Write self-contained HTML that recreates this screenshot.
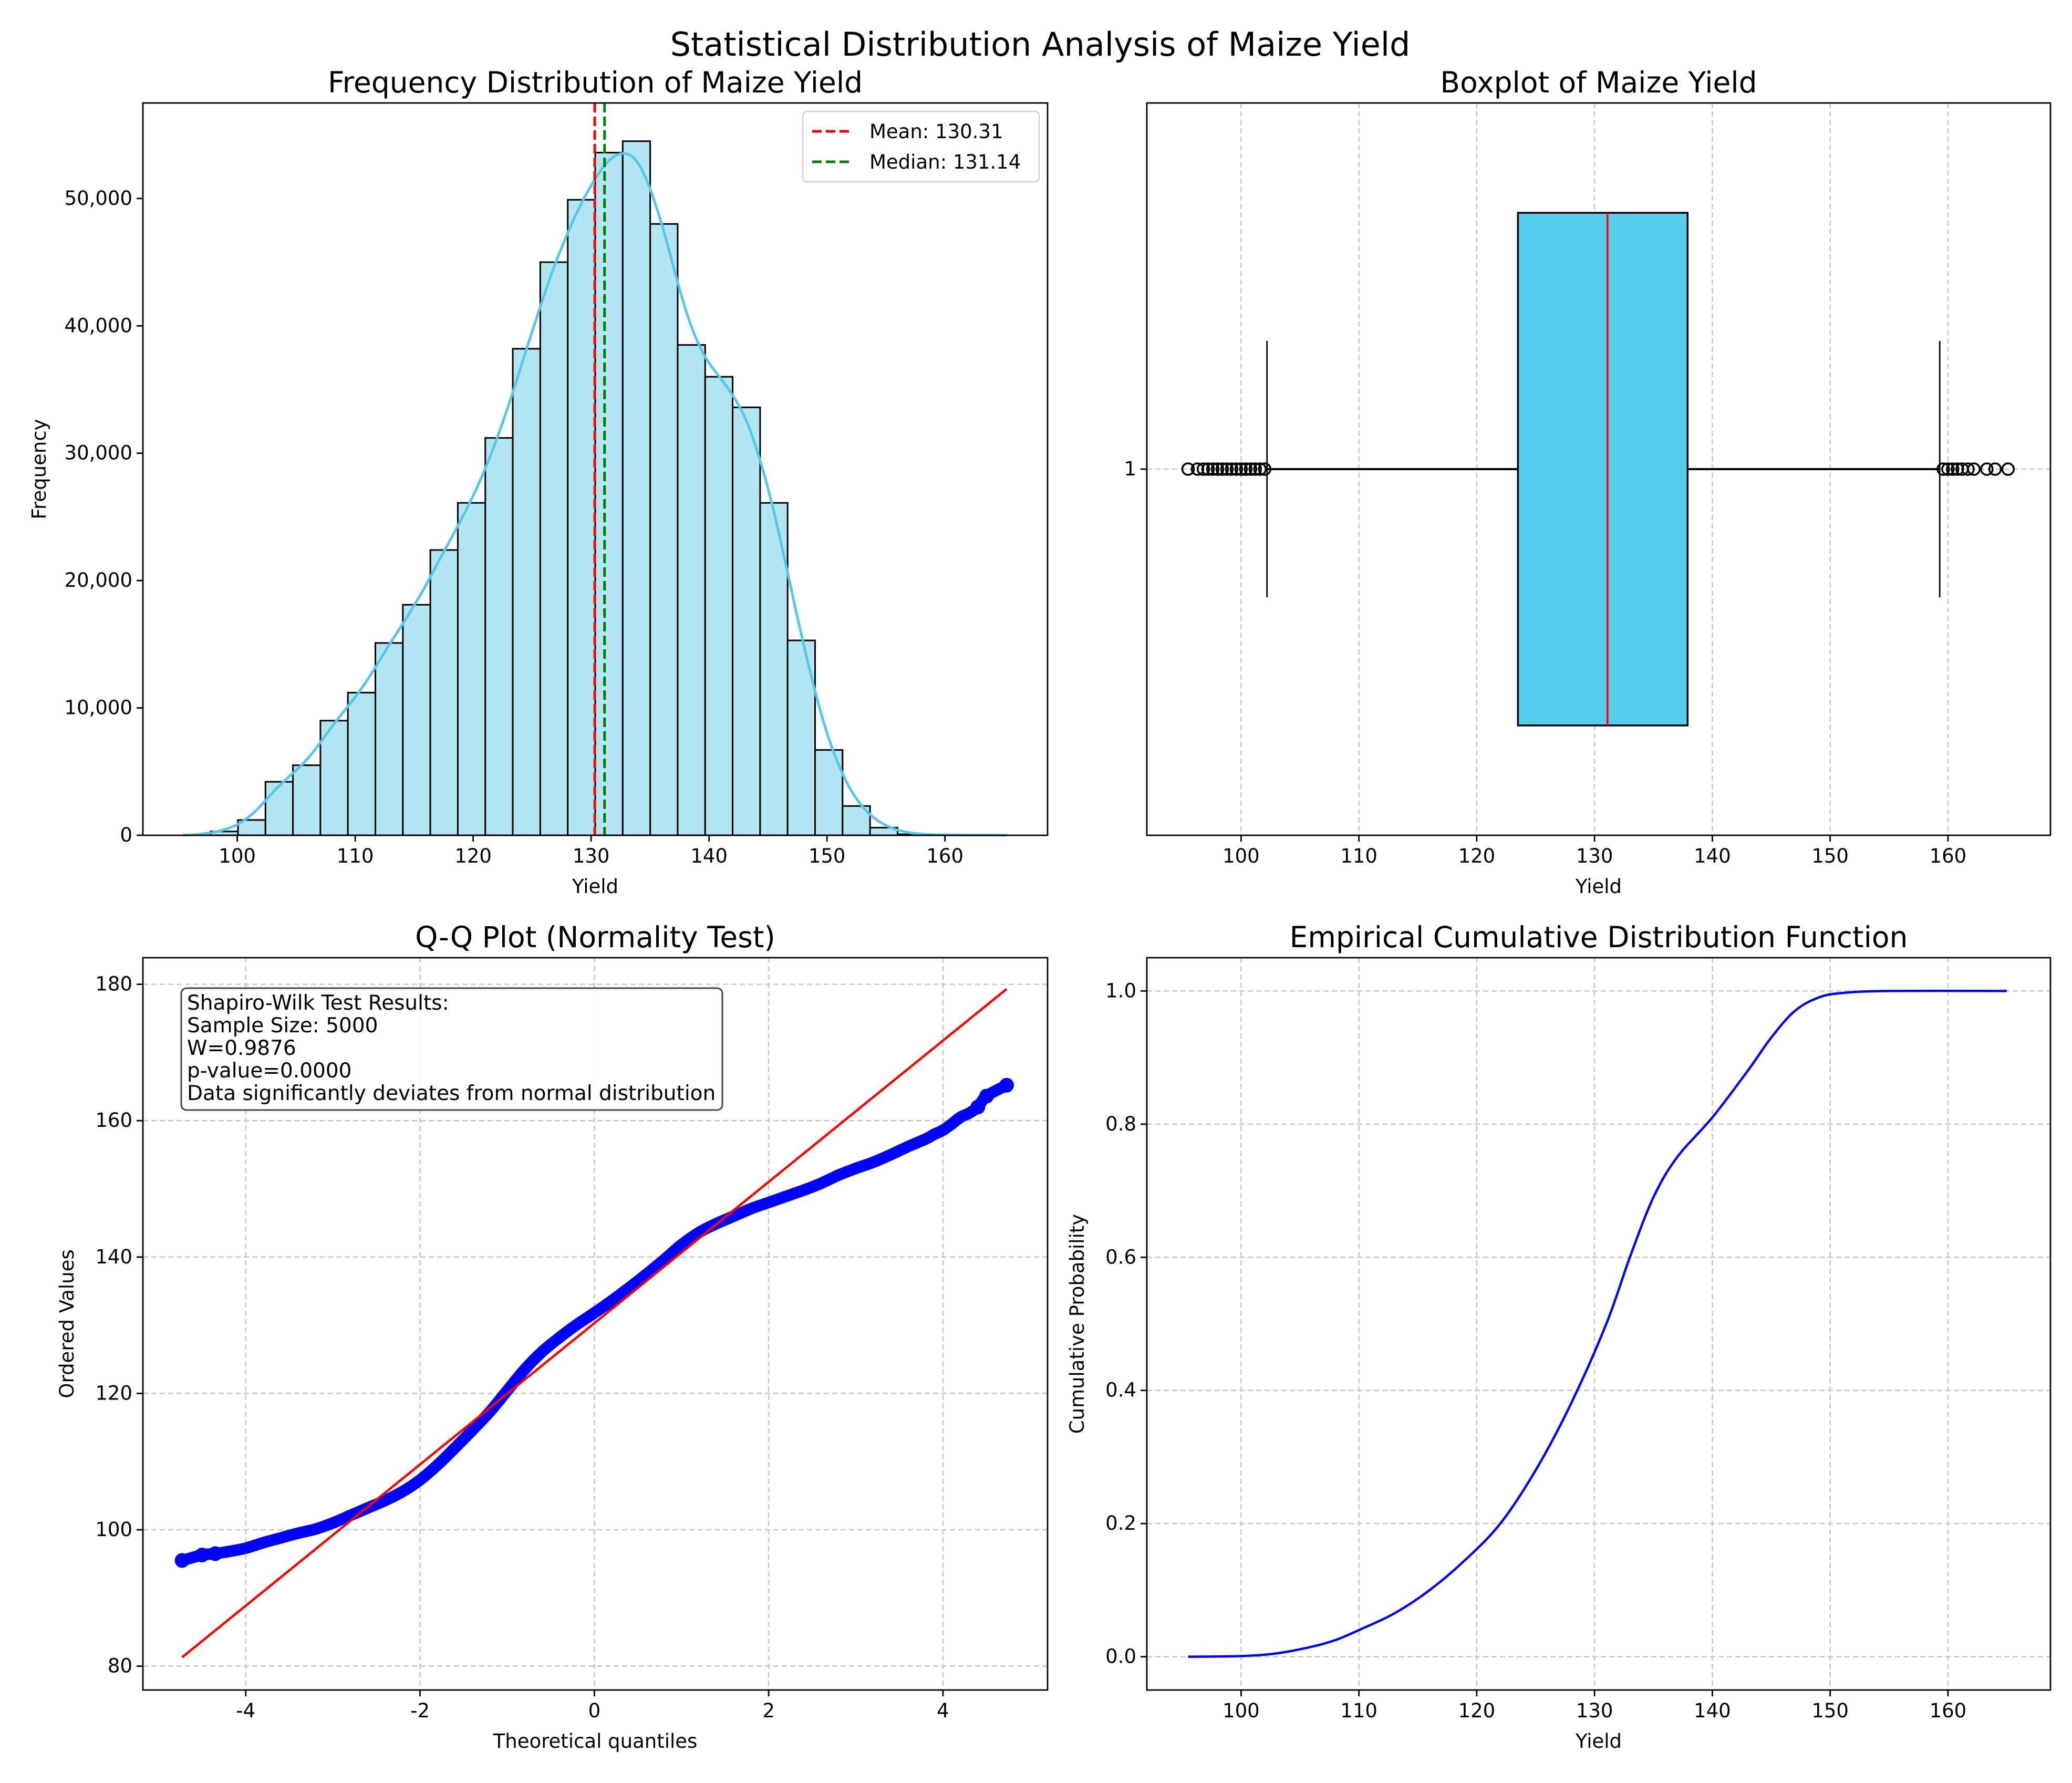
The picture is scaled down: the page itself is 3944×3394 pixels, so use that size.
<!DOCTYPE html>
<html><head><meta charset="utf-8">
<style>
html,body{margin:0;padding:0;background:#fff;}
svg{display:block;font-family:"DejaVu Sans","Liberation Sans",sans-serif;}
</style></head>
<body>
<svg id="fig" width="3944" height="3394" viewBox="0 0 3944 3394" xmlns="http://www.w3.org/2000/svg">
<rect width="3944" height="3394" fill="#fff"/>
<text x="1980" y="106" font-size="62" text-anchor="middle">Statistical Distribution Analysis of Maize Yield</text>
</svg>
<script>
// ---------- data ----------
const histStart = 95.4;
const histBinWidth = 2.33;
const histCounts = [0,300,1200,4200,5500,9000,11200,15100,18100,22400,26100,31200,38200,45000,49900,53600,54500,48000,38500,36000,33600,26100,15300,6700,2300,600,80,30,10,5];
const histYTicks = [0,10000,20000,30000,40000,50000];
const yieldTicks = [100,110,120,130,140,150,160];
const meanValue = 130.31;
const medianValue = 131.14;

const boxStats = [102.2,123.5,131.1,137.9,159.3];
const lowOutliers = [95.5,96.3,96.8,97.2,97.6,98,98.4,98.8,99.2,99.6,100,100.4,100.8,101.2,101.6,102];
const highOutliers = [159.6,160,160.4,160.8,161.2,161.7,162.2,163.3,164,165.1];

const qqTheo = [-4.73,-4.5,-4.35,-4.2,-4,-3.8,-3.6,-3.4,-3.2,-3,-2.8,-2.6,-2.4,-2.2,-2,-1.8,-1.6,-1.4,-1.2,-1,-0.8,-0.6,-0.4,-0.2,0,0.2,0.4,0.6,0.8,1,1.2,1.4,1.6,1.8,2,2.2,2.4,2.6,2.8,3,3.2,3.4,3.6,3.8,3.9,4,4.1,4.2,4.3,4.4,4.5,4.73];
const qqVals = [95.5,96.3,96.5,96.8,97.3,98.1,98.8,99.5,100.1,101,102.1,103.2,104.3,105.6,107.3,109.5,112,114.6,117.3,120.4,123.5,126.1,128.2,130.1,131.8,133.6,135.5,137.5,139.6,141.8,143.6,144.9,146,147.1,148,148.9,149.8,150.8,152,153,153.9,155,156.2,157.3,158,158.6,159.5,160.5,161.1,162,163.6,165.2];
const qqSlope = 10.36;
const qqIntercept = 130.3;
const qqLineEnds = [-4.73,4.73];
const qqXTicks = [-4,-2,0,2,4];
const qqYTicks = [80,100,120,140,160,180];

const ecdfX = [95.5,100,103,106,108,110,113,116,119,122,125,128,131,133,135,137,140,143,145,147,149,151,155,165];
const ecdfY = [0,0.001,0.005,0.015,0.025,0.04,0.065,0.1,0.145,0.2,0.28,0.38,0.5,0.6,0.69,0.75,0.81,0.88,0.93,0.97,0.99,0.997,1,1];
const ecdfYTicks = [0,0.2,0.4,0.6,0.8,1.0];

// ---------- helpers ----------
const NS="http://www.w3.org/2000/svg";
const fig=document.getElementById('fig');
function mk(tag,attrs,parent,txt){const e=document.createElementNS(NS,tag);for(const k in attrs)e.setAttribute(k,attrs[k]);if(txt!==undefined)e.textContent=txt;(parent||fig).appendChild(e);return e;}
function scale(d0,d1,r0,r1){return v=>r0+(v-d0)*(r1-r0)/(d1-d0);}
function smoothPath(P){let d='M'+P[0][0]+','+P[0][1];
  for(let i=0;i<P.length-1;i++){const p0=P[Math.max(0,i-1)],p1=P[i],p2=P[i+1],p3=P[Math.min(P.length-1,i+2)];
    const c1=[p1[0]+(p2[0]-p0[0])/6,p1[1]+(p2[1]-p0[1])/6],c2=[p2[0]-(p3[0]-p1[0])/6,p2[1]-(p3[1]-p1[1])/6];
    d+=` C${c1[0].toFixed(1)},${c1[1].toFixed(1)} ${c2[0].toFixed(1)},${c2[1].toFixed(1)} ${p2[0].toFixed(1)},${p2[1].toFixed(1)}`;}
  return d;}
const TICK=35, LBL=35, TTL=55;

function axesFrame(g,L,T,R,B){
  const f=mk('rect',{x:L,y:T,width:R-L,height:B-T,fill:'none',stroke:'#000','stroke-width':2.8},g);
  
  
}
function xTicks(g,ticks,sx,B,fmt,grid,T){
  ticks.forEach(t=>{const x=sx(t);
    if(grid){const gl=mk('line',{x1:x,x2:x,y1:T,y2:B,stroke:'#c8c8c8','stroke-width':2.6,'stroke-dasharray':'10,6'},g);}
    mk('line',{x1:x,x2:x,y1:B,y2:B+12,stroke:'#000','stroke-width':2.8},g);
    const tx=mk('text',{x:x,y:B+52,'font-size':TICK+2,'text-anchor':'middle'},g,fmt(t));
    
  });
}
function yTicks(g,ticks,sy,L,fmt,grid,R){
  ticks.forEach(t=>{const y=sy(t);
    if(grid){const gl=mk('line',{x1:L,x2:R,y1:y,y2:y,stroke:'#c8c8c8','stroke-width':2.6,'stroke-dasharray':'10,6'},g);}
    mk('line',{x1:L-12,x2:L,y1:y,y2:y,stroke:'#000','stroke-width':2.8},g);
    const tx=mk('text',{x:L-20,y:y+12,'font-size':TICK+2,'text-anchor':'end'},g,fmt(t));
    
  });
}
function titles(g,L,T,R,B,title,xl,yl,ylx){
  const t=mk('text',{x:(L+R)/2,y:T-20,'font-size':TTL,'text-anchor':'middle'},g,title);
  
  const x=mk('text',{x:(L+R)/2,y:B+110,'font-size':LBL+2,'text-anchor':'middle'},g,xl);
  
  if(yl){const cy=(T+B)/2;const y=mk('text',{x:ylx,y:cy,'font-size':LBL+2,'text-anchor':'middle',transform:`rotate(-90 ${ylx} ${cy})`},g,yl);
    }
}
const comma=v=>v.toLocaleString('en-US');

// ---------- Panel 1: histogram ----------
(function(){
  const L=272,T=196,R=1994,B=1590;
  const g=mk('g',{});
  const sx=scale(92.0,168.7,L,R), sy=scale(0,57500,B,T);
  histCounts.forEach((c,i)=>{
    const x0=sx(histStart+i*histBinWidth), x1=sx(histStart+(i+1)*histBinWidth);
    const r=mk('rect',{x:x0,y:sy(c),width:x1-x0,height:B-sy(c),fill:'#b3e5f3',stroke:'#000','stroke-width':3},g);
    
  });
  const bw=1.55;let pts=[];
  for(let v=95.4;v<=165.3;v+=0.25){let s=0;
    histCounts.forEach((c,i)=>{const m=histStart+(i+0.5)*histBinWidth;s+=c*histBinWidth*Math.exp(-0.5*((v-m)/bw)**2)/(bw*Math.sqrt(2*Math.PI));});
    pts.push(sx(v).toFixed(1)+','+sy(s).toFixed(1));}
  const k=mk('polyline',{points:pts.join(' '),fill:'none',stroke:'#55c8e8','stroke-width':5},g);
  
  const ml=mk('line',{x1:sx(meanValue),x2:sx(meanValue),y1:T,y2:B,stroke:'#ff0000','stroke-width':5,'stroke-dasharray':'18,8'},g);
  
  const dl=mk('line',{x1:sx(medianValue),x2:sx(medianValue),y1:T,y2:B,stroke:'#008000','stroke-width':5,'stroke-dasharray':'18,8'},g);
  
  axesFrame(g,L,T,R,B);
  xTicks(g,yieldTicks,sx,B,v=>v,false,T);
  yTicks(g,histYTicks,sy,L,comma,false,R);
  titles(g,L,T,R,B,'Frequency Distribution of Maize Yield','Yield','Frequency',87);
  const lg=mk('g',{},g);
  mk('rect',{x:1528,y:212,width:450,height:134,rx:8,fill:'#fff',stroke:'#d0d0d0','stroke-width':2.5},lg);
  mk('line',{x1:1546,x2:1620,y1:250,y2:250,stroke:'#ff0000','stroke-width':5,'stroke-dasharray':'18,8'},lg);
  const t1=mk('text',{x:1655,y:263,'font-size':37},lg,'Mean: '+meanValue.toFixed(2));
  
  mk('line',{x1:1546,x2:1620,y1:308,y2:308,stroke:'#008000','stroke-width':5,'stroke-dasharray':'18,8'},lg);
  const t2=mk('text',{x:1655,y:321,'font-size':37},lg,'Median: '+medianValue.toFixed(2));
  
})();

// ---------- Panel 2: boxplot ----------
(function(){
  const L=2183,T=196,R=3903,B=1590;
  const g=mk('g',{});
  const sx=scale(92.0,168.7,L,R), sy=scale(0.5,1.5,B,T);
  xTicks(g,yieldTicks,sx,B,v=>v,true,T);
  yTicks(g,[1],sy,L,v=>v,true,R);
  const y=sy(1);
  const [lw,q1,med,q3,uw]=boxStats;
  const w1=mk('line',{x1:sx(lw),x2:sx(q1),y1:y,y2:y,stroke:'#000','stroke-width':4},g);
  
  const w2=mk('line',{x1:sx(q3),x2:sx(uw),y1:y,y2:y,stroke:'#000','stroke-width':4},g);
  
  [lw,uw].forEach(v=>{const c=mk('line',{x1:sx(v),x2:sx(v),y1:sy(1.175),y2:sy(0.825),stroke:'#000','stroke-width':2.8},g);
    });
  const bx=mk('rect',{x:sx(q1),y:sy(1.35),width:sx(q3)-sx(q1),height:sy(0.65)-sy(1.35),fill:'#56cdeb',stroke:'#000','stroke-width':3.5},g);
  
  const md=mk('line',{x1:sx(med),x2:sx(med),y1:sy(1.35),y2:sy(0.65),stroke:'#ff0000','stroke-width':3.5},g);
  
  lowOutliers.concat(highOutliers).forEach(v=>{const c=mk('circle',{cx:sx(v),cy:y,r:11,fill:'none',stroke:'#000','stroke-width':3.5},g);
    });
  axesFrame(g,L,T,R,B);
  titles(g,L,T,R,B,'Boxplot of Maize Yield','Yield',null,0);
})();

// ---------- Panel 3: Q-Q ----------
(function(){
  const L=272,T=1823,R=1994,B=3217;
  const g=mk('g',{});
  const sx=scale(-5.18,5.2,L,R), sy=scale(76.5,183.9,B,T);
  xTicks(g,qqXTicks,sx,B,v=>v,true,T);
  yTicks(g,qqYTicks,sy,L,v=>v,true,R);
  const P=qqTheo.map((q,i)=>[sx(q),sy(qqVals[i])]);
  const pl=mk('path',{d:smoothPath(P),fill:'none',stroke:'#0000ff','stroke-width':22,'stroke-linecap':'round','stroke-linejoin':'round'},g);
  
  [0,1,2,qqTheo.length-3,qqTheo.length-2,qqTheo.length-1].forEach(i=>{const c=mk('circle',{cx:sx(qqTheo[i]),cy:sy(qqVals[i]),r:14,fill:'#0000ff'},g);
    });
  const rl=mk('line',{x1:sx(qqLineEnds[0]),y1:sy(qqIntercept+qqSlope*qqLineEnds[0]),x2:sx(qqLineEnds[1]),y2:sy(qqIntercept+qqSlope*qqLineEnds[1]),stroke:'#ff0000','stroke-width':4.5},g);
  
  axesFrame(g,L,T,R,B);
  titles(g,L,T,R,B,'Q-Q Plot (Normality Test)','Theoretical quantiles','Ordered Values',140);
  const tb=mk('g',{},g);
  mk('rect',{x:345,y:1881,width:1030,height:232,rx:10,fill:'#fff','fill-opacity':0.85,stroke:'#444','stroke-width':3},tb);
  ['Shapiro-Wilk Test Results:','Sample Size: 5000','W=0.9876','p-value=0.0000','Data significantly deviates from normal distribution']
    .forEach((s,i)=>{const t=mk('text',{x:356,y:1922+i*43,'font-size':39},tb,s);});
})();

// ---------- Panel 4: ECDF ----------
(function(){
  const L=2183,T=1823,R=3903,B=3217;
  const g=mk('g',{});
  const sx=scale(92.0,168.7,L,R), sy=scale(-0.05,1.05,B,T);
  xTicks(g,yieldTicks,sx,B,v=>v,true,T);
  yTicks(g,ecdfYTicks,sy,L,v=>v.toFixed(1),true,R);
  const P=ecdfX.map((x,i)=>[sx(x),sy(ecdfY[i])]);
  const pl=mk('path',{d:smoothPath(P),fill:'none',stroke:'#0000ff','stroke-width':4.5,'stroke-linejoin':'round'},g);
  
  axesFrame(g,L,T,R,B);
  titles(g,L,T,R,B,'Empirical Cumulative Distribution Function','Yield','Cumulative Probability',2063);
})();
</script>
</body></html>
